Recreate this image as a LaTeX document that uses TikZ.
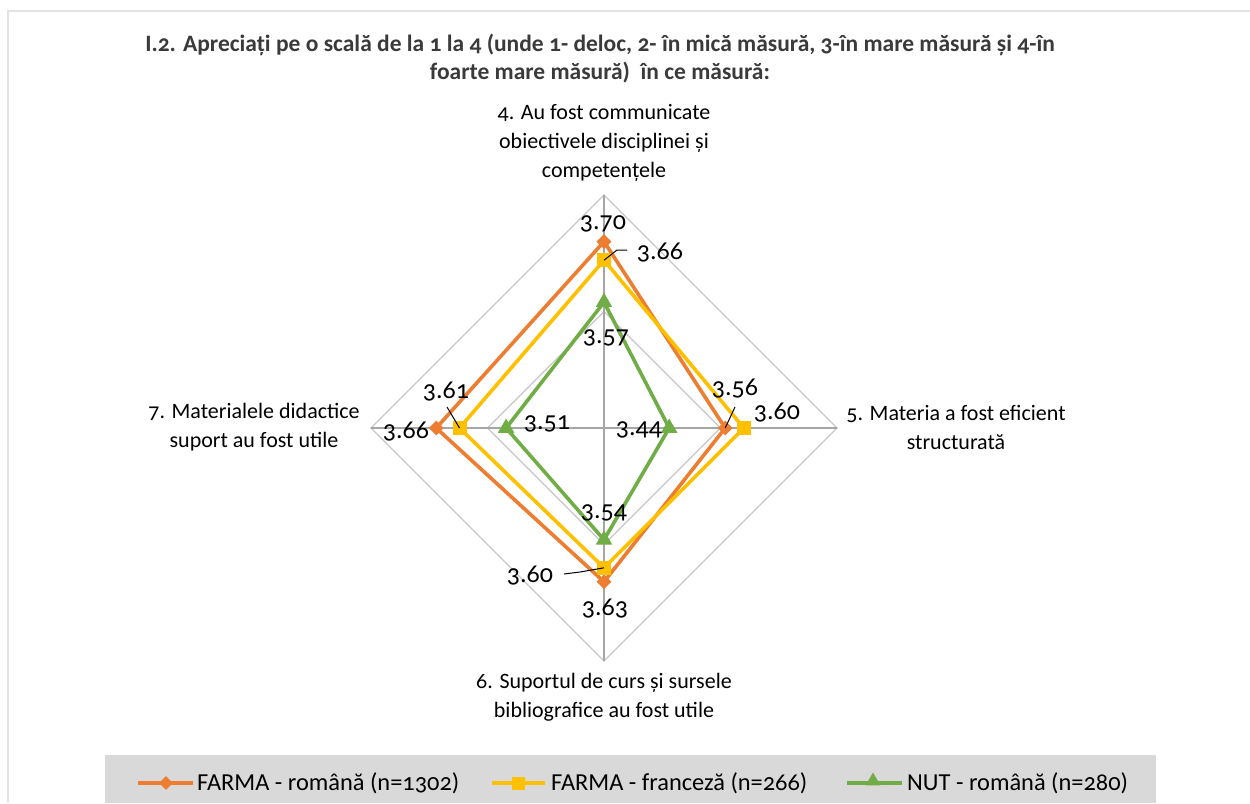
\documentclass[tikz,border=0pt]{standalone}
\usepackage{fontspec}
\setmainfont{Carlito}[Numbers=OldStyle]
\usetikzlibrary{shapes.geometric}
\definecolor{corange}{HTML}{ED7D31}
\definecolor{cyellow}{HTML}{FFC000}
\definecolor{cgreen}{HTML}{70AD47}
\definecolor{cgrid}{HTML}{C8C8C8}
\definecolor{cspoke}{HTML}{A6A6A6}
\definecolor{clegend}{HTML}{D9D9D9}
\definecolor{cframe}{HTML}{E3E3E3}
\definecolor{ctitle}{HTML}{3A3A3A}
\begin{document}
\begin{tikzpicture}[x=1pt,y=-1pt,
  grid/.style={draw=cgrid, line width=1.1pt},
  spoke/.style={draw=cspoke, line width=1.1pt},
  series/.style={line width=3.6pt, line join=round},
  dmark/.style={diamond, fill=corange, inner sep=0pt, minimum size=15pt},
  smark/.style={rectangle, fill=cyellow, inner sep=0pt, minimum size=14pt},
  tmark/.style={regular polygon, regular polygon sides=3, fill=cgreen, inner sep=0pt, minimum size=19pt},
  val/.style={font=\fontsize{26}{26}\selectfont, inner sep=0pt},
  axlab/.style={font=\fontsize{22}{29}\selectfont, align=center, inner sep=0pt},
  leglab/.style={font=\fontsize{24.4}{24.4}\selectfont, anchor=west, inner sep=0pt},
  leader/.style={draw=black, line width=1pt}
]
\useasboundingbox (0,0) rectangle (1250,803);
% frame
\draw[cframe, line width=1.5pt] (8,803) -- (8,11) -- (1250,11);
% title
\node[font=\bfseries\fontsize{23.5}{28}\selectfont, text=ctitle, align=center, inner sep=0pt] (title) at (600,59)
  {I.2. Apreciați pe o scală de la 1 la 4 (unde 1- deloc, 2- în mică măsură, 3-în mare măsură și 4-în\\
   foarte mare măsură)\ \ în ce măsură:};
% grid
\coordinate (c) at (604,428);
\coordinate (t1) at (604,311.5); \coordinate (r1) at (720.5,428); \coordinate (b1) at (604,544.5); \coordinate (l1) at (487.5,428);
\coordinate (t2) at (604,195); \coordinate (r2) at (837,428); \coordinate (b2) at (604,661); \coordinate (l2) at (371,428);
\draw[grid] (t1) -- (r1) -- (b1) -- (l1) -- cycle;
\draw[grid] (t2) -- (r2) -- (b2) -- (l2) -- cycle;
\draw[spoke] (c) -- (t2);
\draw[spoke] (c) -- (r2);
\draw[spoke] (c) -- (b2);
\draw[spoke] (c) -- (l2);
% axis labels
\node[axlab] (ax4) at (604,143) {4. Au fost communicate\\obiectivele disciplinei și\\competențele};
\node[axlab] (ax5) at (956,427.5) {5. Materia a fost eficient\\structurată};
\node[axlab] (ax6) at (604,697.5) {6. Suportul de curs și sursele\\bibliografice au fost utile};
\node[axlab] (ax7) at (254,427.5) {7. Materialele didactice\\suport au fost utile};
% series points
\coordinate (oT) at (604,241.6); \coordinate (oR) at (725.2,428); \coordinate (oB) at (604,581.8); \coordinate (oL) at (436.2,428);
\coordinate (yT) at (604,260.2); \coordinate (yR) at (743.8,428); \coordinate (yB) at (604,567.8); \coordinate (yL) at (459.5,428);
\coordinate (gT) at (604,302.2); \coordinate (gR) at (669.2,428); \coordinate (gB) at (604,539.8); \coordinate (gL) at (506.1,428);
% orange
\draw[series, corange] (oT) -- (oR) -- (oB) -- (oL) -- cycle;
\foreach \p in {oT,oR,oB,oL} \node[dmark] at (\p) {};
% yellow
\draw[series, cyellow] (yT) -- (yR) -- (yB) -- (yL) -- cycle;
\foreach \p in {yT,yR,yB,yL} \node[smark] at (\p) {};
% green
\draw[series, cgreen] (gT) -- (gR) -- (gB) -- (gL) -- cycle;
\foreach \p in {gT,gR,gB,gL} \node[tmark] at (\p) {};
% data labels
\node[val] (vo4) at (603,224) {3.70};
\node[val] (vy4) at (660,253) {3.66};
\node[val] (vg4) at (606,338) {3.57};
\node[val] (vo5) at (735,389) {3.56};
\node[val] (vy5) at (777,413) {3.60};
\node[val] (vg5) at (639,430) {3.44};
\node[val] (vo6) at (605,609) {3.63};
\node[val] (vy6) at (530,576) {3.60};
\node[val] (vg6) at (604,513) {3.54};
\node[val] (vo7) at (406,432) {3.66};
\node[val] (vy7) at (446,392) {3.61};
\node[val] (vg7) at (547,424) {3.51};
% leader lines
\coordinate (ly4a) at (617,250); \coordinate (ly4b) at (627,250);
\draw[leader] (yT) -- (ly4a) -- (ly4b);
\coordinate (lo5) at (735,407);
\draw[leader] (oR) -- (lo5);
\coordinate (ly7) at (447,407);
\draw[leader] (yL) -- (ly7);
\coordinate (ly6a) at (580,572); \coordinate (ly6b) at (564,574);
\draw[leader] (yB) -- (ly6a) -- (ly6b);
% legend
\node[fill=clegend, minimum width=1051pt, minimum height=48pt, inner sep=0pt, anchor=north west] (legend) at (105,755) {};
\coordinate (lo1) at (138,783); \coordinate (lo2) at (193,783);
\draw[series, corange, line width=3.4pt] (lo1) -- (lo2);
\node[dmark, minimum size=14pt] (lom) at (166,783) {};
\node[leglab] (lot) at (197,783) {FARMA - română (n=1302)};
\coordinate (ly1) at (492,783); \coordinate (ly2) at (545,783);
\draw[series, cyellow, line width=3.4pt] (ly1) -- (ly2);
\node[smark, minimum size=13pt] (lym) at (518,783) {};
\node[leglab] (lyt) at (551,783) {FARMA - franceză (n=266)};
\coordinate (lg1) at (847,783); \coordinate (lg2) at (902,783);
\draw[series, cgreen, line width=3.4pt] (lg1) -- (lg2);
\node[tmark, minimum size=17pt] (lgm) at (873,781) {};
\node[leglab] (lgt) at (907,783) {NUT - română (n=280)};
\end{tikzpicture}
\end{document}
